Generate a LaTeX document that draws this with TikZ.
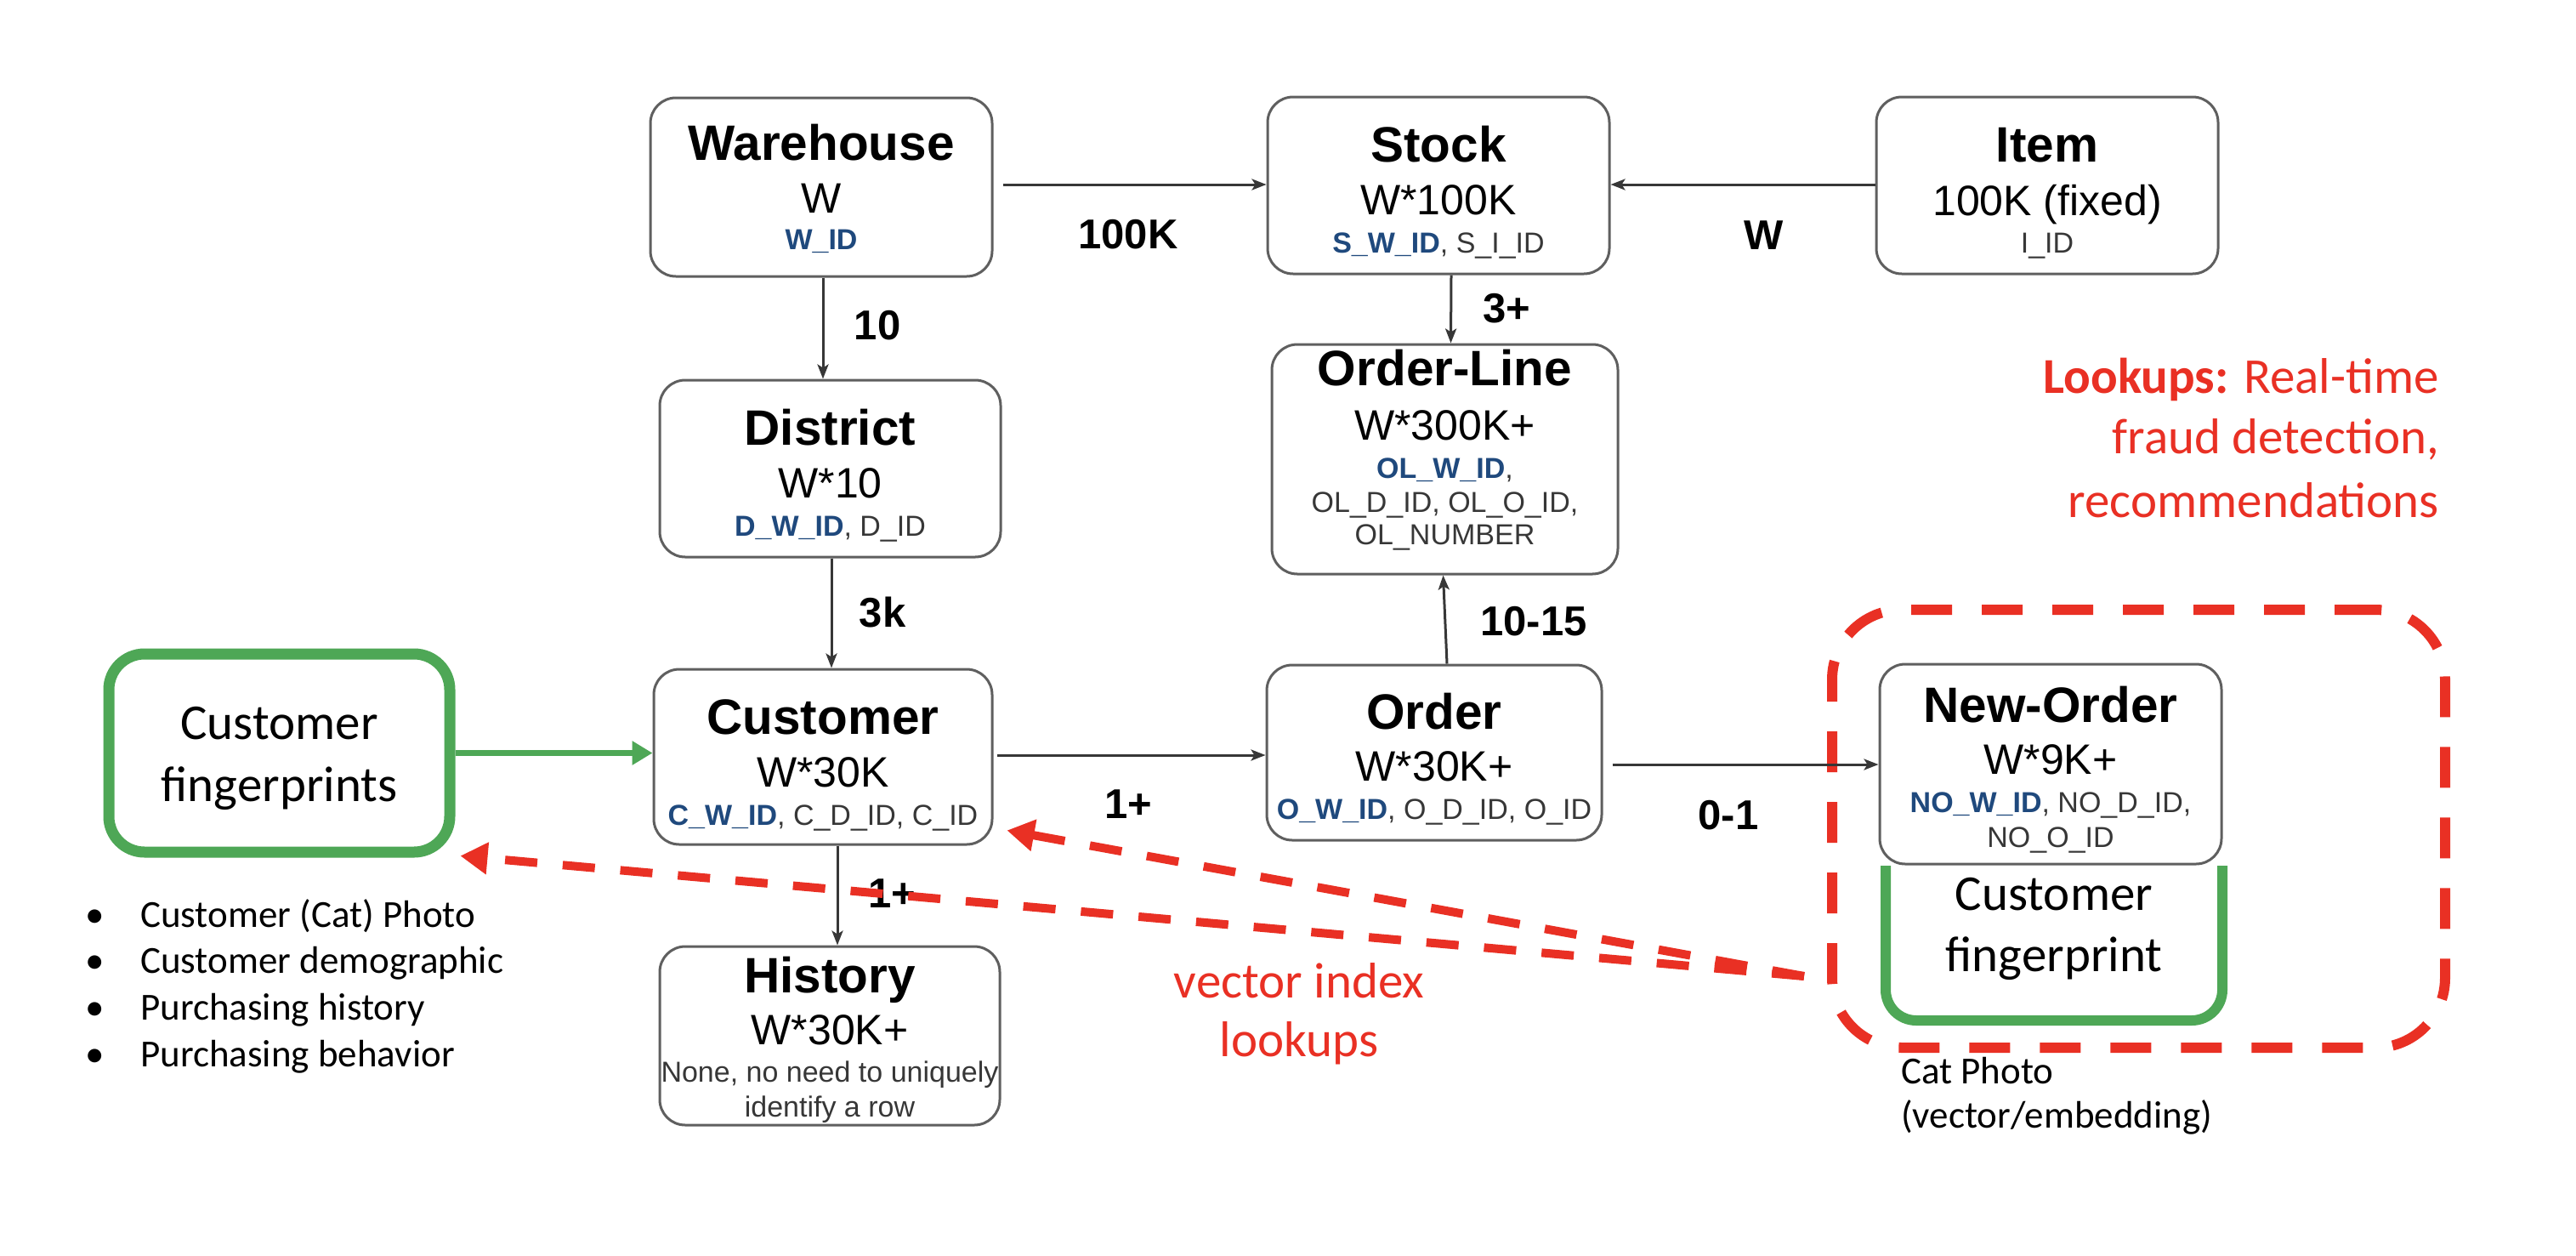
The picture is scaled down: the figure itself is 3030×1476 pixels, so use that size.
\documentclass[tikz,border=0pt]{standalone}
\usepackage{fontspec}
\setmainfont{Liberation Sans}
\newfontfamily\calibri{Carlito}
\usetikzlibrary{arrows.meta,calc}
\definecolor{idblue}{RGB}{31,73,125}
\definecolor{idgray}{RGB}{55,55,55}
\definecolor{boxgray}{RGB}{95,95,95}
\definecolor{linegray}{RGB}{55,55,55}
\definecolor{alertred}{RGB}{233,48,36}
\definecolor{fpgreen}{RGB}{78,167,86}
\newcommand\ttlfont{\fontsize{58.5}{70}\selectfont\bfseries}
\newcommand\szfont{\fontsize{50}{60}\selectfont}
\newcommand\idfont{\fontsize{34}{41}\selectfont}
\newcommand\lblfont{\fontsize{49}{59}\selectfont\bfseries}
\newcommand\calbig{\calibri\fontsize{59}{72}\selectfont}
\newcommand\calsmall{\calibri\fontsize{45}{55}\selectfont}
\newcommand\bid[1]{\textcolor{idblue}{\bfseries #1}}
\begin{document}
\begin{tikzpicture}[x=1pt,y=-1pt,
  tbl/.style={draw=boxgray,line width=3pt,rounded corners=30pt,inner sep=0pt,fill=white},
  ttl/.style={anchor=base,inner sep=0pt,font=\ttlfont},
  sz/.style={anchor=base,inner sep=0pt,font=\szfont},
  idt/.style={anchor=base,inner sep=0pt,font=\idfont,text=idgray},
  lbl/.style={anchor=base,inner sep=0pt,font=\lblfont},
  conn/.style={draw=linegray,line width=3pt,-{Stealth[length=17pt,width=13pt,inset=4pt]}},
  redarrow/.style={draw=alertred,line width=10pt,dash pattern=on 38pt off 30pt,-{Triangle[length=32pt,width=36pt]}},
  redtxt/.style={inner sep=0pt,font=\calbig,text=alertred},
  caltxt/.style={inner sep=0pt,font=\calbig},
  smalltxt/.style={inner sep=0pt,font=\calsmall,anchor=base west}
]
\useasboundingbox (0,0) rectangle (3030,1476);
\fill[white] (0,0) rectangle (3030,1476);

% lookup dashed region
\node[draw=alertred,line width=12pt,dash pattern=on 48pt off 35pt,rounded corners=82pt,
  minimum width=721pt,minimum height=515pt,inner sep=0pt] (region) at (2515.5,974.5) {};

% boxes
\node[tbl,minimum width=402pt,minimum height=210pt] (wh) at (966,220) {};
\node[tbl,minimum width=402pt,minimum height=208pt] (stock) at (1692,218) {};
\node[tbl,minimum width=402pt,minimum height=208pt] (item) at (2408,218) {};
\node[tbl,minimum width=401pt,minimum height=208pt] (dist) at (976.5,551) {};
\node[tbl,minimum width=407pt,minimum height=270pt] (ol) at (1699.5,540) {};
\node[tbl,minimum width=398pt,minimum height=206pt] (cust) at (968,890) {};
\node[tbl,minimum width=394pt,minimum height=206pt] (order) at (1687,885) {};
\node[tbl,minimum width=402pt,minimum height=235pt] (no) at (2412,898.5) {};
\node[tbl,minimum width=400pt,minimum height=210pt] (hist) at (976,1218) {};

% texts in boxes
\node[ttl] (whT) at (966,188) {Warehouse};
\node[sz] (whS) at (966,250) {W};
\node[idt] (whI) at (966,293) {\bid{W\_ID}};

\node[ttl] (stT) at (1692,190) {Stock};
\node[sz] (stS) at (1692,252) {W*100K};
\node[idt] (stI) at (1692,297) {\bid{S\_W\_ID}, S\_I\_ID};

\node[ttl] (itT) at (2408,190) {Item};
\node[sz] (itS) at (2408,253) {100K (fixed)};
\node[idt] (itI) at (2408,297) {I\_ID};

\node[ttl] (diT) at (976.5,523) {District};
\node[sz] (diS) at (976.5,585) {W*10};
\node[idt] (diI) at (976.5,630) {\bid{D\_W\_ID}, D\_ID};

\node[ttl] (olT) at (1699.5,453) {Order-Line};
\node[sz] (olS) at (1699.5,517) {W*300K+};
\node[idt] (olI1) at (1699.5,562) {\bid{OL\_W\_ID},};
\node[idt] (olI2) at (1699.5,602) {OL\_D\_ID, OL\_O\_ID,};
\node[idt] (olI3) at (1699.5,640) {OL\_NUMBER};

\node[ttl] (cuT) at (968,863) {Customer};
\node[sz] (cuS) at (968,925) {W*30K};
\node[idt] (cuI) at (968,970) {\bid{C\_W\_ID}, C\_D\_ID, C\_ID};

\node[ttl] (orT) at (1687,857) {Order};
\node[sz] (orS) at (1687,918) {W*30K+};
\node[idt] (orI) at (1687,963) {\bid{O\_W\_ID}, O\_D\_ID, O\_ID};

\node[ttl] (noT) at (2412,849) {New-Order};
\node[sz] (noS) at (2412,910) {W*9K+};
\node[idt] (noI1) at (2412,955) {\bid{NO\_W\_ID}, NO\_D\_ID,};
\node[idt] (noI2) at (2412,996) {NO\_O\_ID};

\node[ttl] (hiT) at (976,1167) {History};
\node[sz] (hiS) at (976,1228) {W*30K+};
\node[idt] (hiI1) at (976,1272) {None, no need to uniquely};
\node[idt] (hiI2) at (976,1313) {identify a row};

% connectors
\draw[conn] ($(wh.east)+(11,-3)$) -- ($(stock.west)+(0,-1)$);
\draw[conn] ($(item.west)+(0,-1)$) -- ($(stock.east)+(0,-1)$);
\draw[conn] ($(wh.south)+(2,0)$) -- ($(dist.north)+(-8.5,0)$);
\draw[conn] ($(dist.south)+(1.5,0)$) -- ($(cust.north)+(10,0)$);
\draw[conn] ($(cust.south)+(17,0)$) -- ($(hist.north)+(9,0)$);
\draw[conn] ($(stock.south)+(15,0)$) -- ($(ol.north)+(7,0)$);
\draw[conn] ($(order.north)+(15,0)$) -- ($(ol.south)+(-2,0)$);
\draw[conn] ($(cust.east)+(4,-2)$) -- ($(order.west)+(0,3)$);
\draw[conn] ($(order.east)+(11,14)$) -- ($(no.west)+(0,0.5)$);

% connector labels
\node[lbl] (l100k) at (1327,292) {100K};
\node[lbl] (lW) at (2075,293) {W};
\node[lbl] (l10) at (1032,399) {10};
\node[lbl] (l3p) at (1772,379) {3+};
\node[lbl] (l3k) at (1038,737) {3k};
\node[lbl] (l1015) at (1804,747) {10-15};
\node[lbl] (l1p) at (1327,962) {1+};
\node[lbl] (l01) at (2033,975) {0-1};
\node[lbl] (l1ph) at (1049,1067) {1+};

% customer fingerprints box
\node[draw=fpgreen,line width=13pt,rounded corners=42pt,minimum width=401pt,minimum height=233pt,
  inner sep=0pt] (fp) at (328.5,885.5) {};
\node[caltxt,anchor=base] (fpT1) at (328.5,869) {Customer};
\node[caltxt,anchor=base] (fpT2) at (328.5,942) {fingerprints};
\draw[fpgreen,line width=7pt,-{Triangle[length=24pt,width=27pt]}] (fp.east) -- (fp.east -| cust.west);

% bullets
\node[smalltxt] (b1) at (100,1090) {\makebox[65pt][l]{•}Customer (Cat) Photo};
\node[smalltxt] (b2) at (100,1144) {\makebox[65pt][l]{•}Customer demographic};
\node[smalltxt] (b3) at (100,1199) {\makebox[65pt][l]{•}Purchasing history};
\node[smalltxt] (b4) at (100,1254) {\makebox[65pt][l]{•}Purchasing behavior};

% green U under New-Order
\draw[fpgreen,line width=12pt,rounded corners=36pt] (2218,1018) -- (2218,1200) -- (2614,1200) -- (2614,1018);
\node[caltxt,anchor=base] (nfT1) at (2416,1070) {Customer};
\node[caltxt,anchor=base] (nfT2) at (2416,1142) {fingerprint};

\node[smalltxt] (cat1) at (2236,1274) {Cat Photo};
\node[smalltxt] (cat2) at (2236,1326) {(vector/embedding)};

% lookups text
\node[redtxt,anchor=base east] (lk1) at (2869,462) {\textbf{Lookups:} Real-time};
\node[redtxt,anchor=base east] (lk2) at (2869,533) {fraud detection,};
\node[redtxt,anchor=base east] (lk3) at (2869,608) {recommendations};

% vector index lookups
\node[redtxt,anchor=base] (vi1) at (1528,1173) {vector index};
\node[redtxt,anchor=base] (vi2) at (1528,1242) {lookups};

% red dashed arrows
\coordinate (vs) at (2122,1148);
\draw[redarrow] (vs) -- ($(cust.south east)+(16,-18)$);
\draw[redarrow] (vs) -- ($(fp.south east)+(6,-2)$);
\end{tikzpicture}
\end{document}
